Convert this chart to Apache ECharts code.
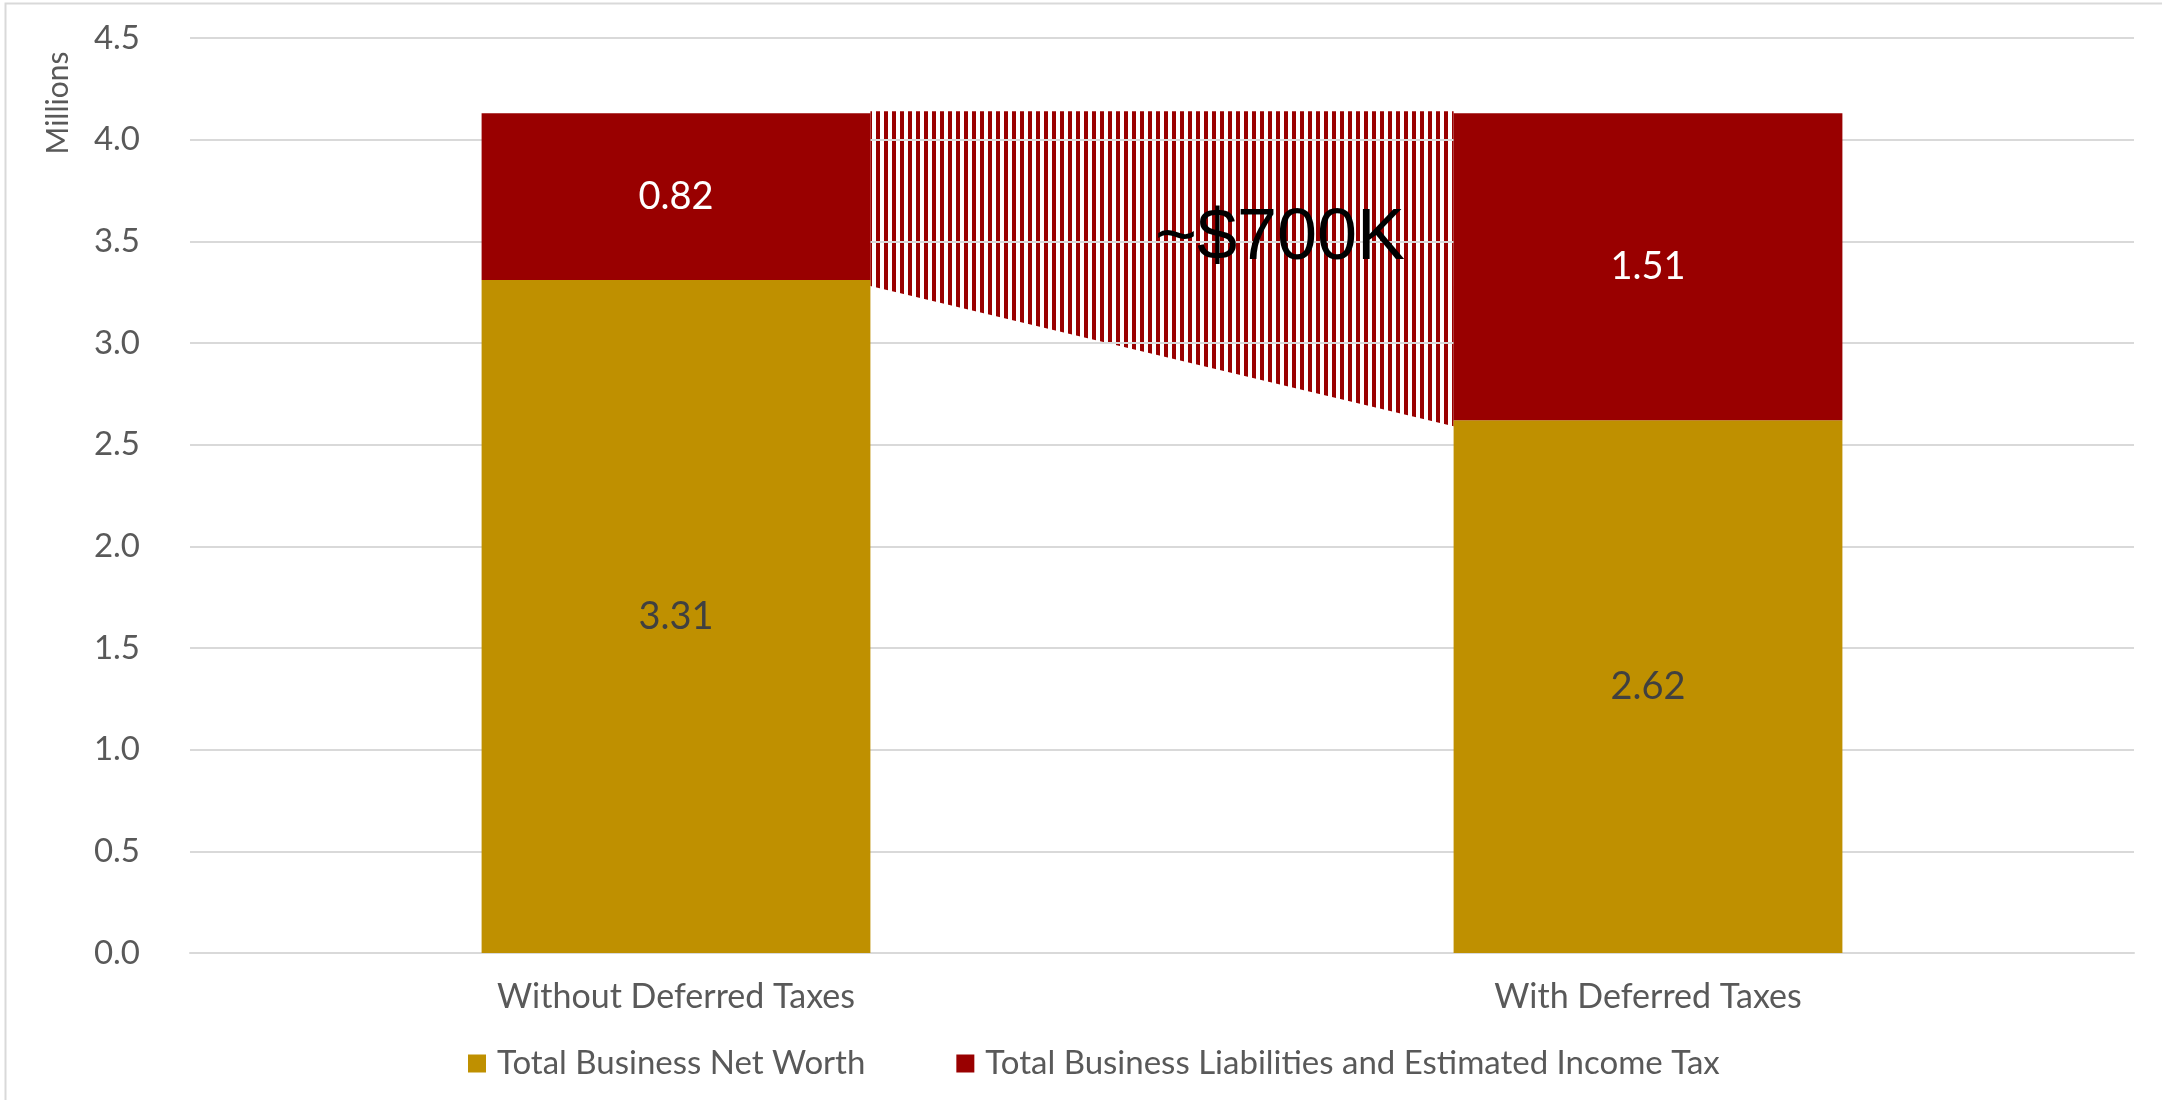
<!DOCTYPE html>
<html>
<head>
<meta charset="utf-8">
<script src="https://cdn.jsdelivr.net/npm/echarts@6/dist/echarts.min.js"></script>
<style>
html,body{margin:0;padding:0;background:#fff;}
#chart{width:2162px;height:1100px;}
</style>
</head>
<body>
<div id="chart"></div>
<script>
const categories = ['Without Deferred Taxes', 'With Deferred Taxes'];
const netWorth = [3.31, 2.62];
const liabilities = [0.82, 1.51];
const hatchTop = [4.14, 4.14];
const hatchBottom = [3.28, 2.59];
const yTicks = [0, 0.5, 1.0, 1.5, 2.0, 2.5, 3.0, 3.5, 4.0, 4.5];
const seriesNames = ['Total Business Net Worth', 'Total Business Liabilities and Estimated Income Tax'];
const annotation = '~$700K';

const GOLD = '#BF9000';
const RED = '#990000';
const FONT = 'Lato';

const pc = document.createElement('canvas');
pc.width = 8; pc.height = 8;
const pctx = pc.getContext('2d');
pctx.fillStyle = '#ffffff';
pctx.fillRect(0, 0, 8, 8);
pctx.fillStyle = RED;
pctx.fillRect(4, 0, 4, 8);
const stripePattern = { image: pc, repeat: 'repeat' };

const chart = echarts.init(document.getElementById('chart'));
chart.setOption({
  animation: false,
  backgroundColor: '#ffffff',
  textStyle: { fontFamily: FONT },
  grid: { left: 190, right: 28, top: 38, bottom: 147 },
  legend: {
    data: seriesNames,
    left: 463,
    top: 1042,
    icon: 'rect',
    itemWidth: 18,
    itemHeight: 18,
    itemGap: 91,
    textStyle: { fontFamily: FONT, fontSize: 33, color: '#595959', padding: [0, 0, 0, 6] }
  },
  xAxis: {
    type: 'category',
    data: categories,
    axisLine: { lineStyle: { color: '#d9d9d9', width: 2 } },
    axisTick: { show: false },
    axisLabel: { fontFamily: FONT, fontSize: 34, color: '#595959', margin: 27 }
  },
  yAxis: {
    type: 'value',
    min: yTicks[0],
    max: yTicks[yTicks.length - 1],
    interval: 0.5,
    axisLine: { show: false },
    axisTick: { show: false },
    splitLine: { lineStyle: { color: '#d9d9d9', width: 2 } },
    axisLabel: {
      fontFamily: FONT, fontSize: 33, color: '#595959', margin: 50,
      formatter: v => v.toFixed(1)
    }
  },
  series: [
    {
      name: seriesNames[0],
      type: 'bar',
      stack: 'total',
      barWidth: '40%',
      data: netWorth,
      itemStyle: { color: GOLD },
      label: {
        show: true, position: 'inside', fontFamily: FONT, fontSize: 38, color: '#404040',
        formatter: p => p.value.toFixed(2)
      }
    },
    {
      name: seriesNames[1],
      type: 'bar',
      stack: 'total',
      barWidth: '40%',
      data: liabilities,
      itemStyle: { color: RED },
      label: {
        show: true, position: 'inside', fontFamily: FONT, fontSize: 38, color: '#ffffff',
        formatter: p => p.value.toFixed(2)
      }
    },
    {
      name: 'hatch',
      type: 'custom',
      z: -1,
      silent: true,
      data: [[0, hatchTop[0]], [1, hatchTop[1]]],
      renderItem: function (params, api) {
        if (params.dataIndex !== 0) return;
        const w = api.size([1, 0])[0];
        const half = w * 0.2;
        const a = api.coord([0, hatchTop[0]]);
        const b = api.coord([1, hatchTop[1]]);
        const c = api.coord([1, hatchBottom[1]]);
        const d = api.coord([0, hatchBottom[0]]);
        return {
          type: 'polygon',
          shape: { points: [[a[0] + half, a[1]], [b[0] - half, b[1]], [c[0] - half, c[1]], [d[0] + half, d[1]]] },
          style: { fill: stripePattern }
        };
      }
    }
  ],
  graphic: [
    {
      type: 'rect', left: 3, top: 1, z: 100, silent: true,
      shape: { width: 2300, height: 1300 },
      style: { fill: 'none', stroke: '#d9d9d9', lineWidth: 2 }
    },
    {
      type: 'text', x: 58, y: 103, rotation: Math.PI / 2, z: 100,
      style: { text: 'Millions', font: '30px ' + FONT, fill: '#595959', align: 'center', verticalAlign: 'middle' }
    },
    {
      type: 'text', x: 1280, y: 239, z: 100,
      style: { text: annotation, font: '72px "Liberation Sans", Arial, sans-serif', fill: '#000000', align: 'center', verticalAlign: 'middle' }
    }
  ]
});
</script>
</body>
</html>
